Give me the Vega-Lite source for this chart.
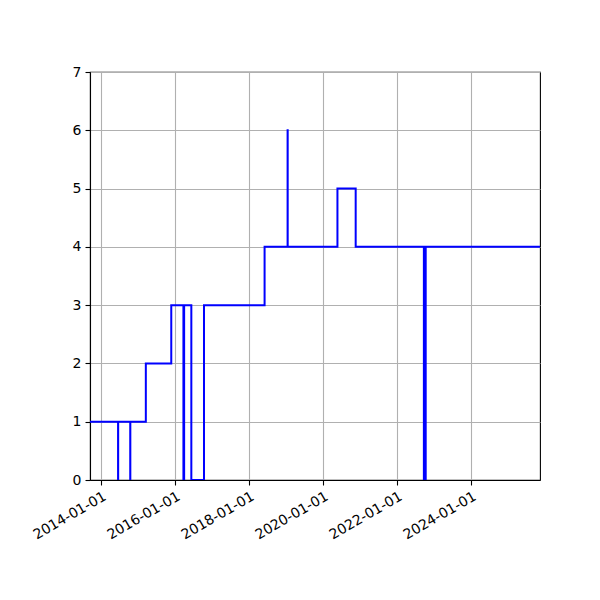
{
  "$schema": "https://vega.github.io/schema/vega-lite/v6.json",
  "width": 450,
  "height": 408,
  "autosize": "none",
  "padding": {"left": 90, "top": 72, "right": 60, "bottom": 120},
  "background": "white",
  "data": {
    "values": [
      {"date": "2013-09-13", "value": 1},
      {"date": "2014-06-17", "value": 0},
      {"date": "2014-06-18", "value": 1},
      {"date": "2014-10-15", "value": 0},
      {"date": "2014-10-16", "value": 1},
      {"date": "2015-03-18", "value": 2},
      {"date": "2015-11-24", "value": 3},
      {"date": "2016-03-23", "value": 0},
      {"date": "2016-03-30", "value": 3},
      {"date": "2016-06-09", "value": 0},
      {"date": "2016-10-12", "value": 3},
      {"date": "2018-06-02", "value": 4},
      {"date": "2019-01-15", "value": 6},
      {"date": "2019-01-16", "value": 4},
      {"date": "2020-05-21", "value": 5},
      {"date": "2020-11-17", "value": 4},
      {"date": "2022-09-21", "value": 0},
      {"date": "2022-10-09", "value": 4},
      {"date": "2025-11-10", "value": 4}
    ]
  },
  "mark": {"type": "line", "interpolate": "step-after", "color": "#0000ff", "strokeWidth": 2, "clip": true},
  "encoding": {
    "x": {
      "field": "date",
      "type": "temporal",
      "title": null,
      "scale": {
        "type": "utc",
        "domain": [
          {"year": 2013, "month": 9, "date": 13, "utc": true},
          {"year": 2025, "month": 11, "date": 10, "utc": true}
        ],
        "nice": false
      },
      "axis": {
        "values": [
          {"year": 2014, "month": 1, "date": 1, "utc": true},
          {"year": 2016, "month": 1, "date": 1, "utc": true},
          {"year": 2018, "month": 1, "date": 1, "utc": true},
          {"year": 2020, "month": 1, "date": 1, "utc": true},
          {"year": 2022, "month": 1, "date": 1, "utc": true},
          {"year": 2024, "month": 1, "date": 1, "utc": true}
        ],
        "format": "%Y-%m-%d",
        "labelAngle": -30,
        "labelAlign": "right",
        "labelBaseline": "top",
        "labelPadding": 4
      }
    },
    "y": {
      "field": "value",
      "type": "quantitative",
      "title": null,
      "scale": {"domain": [0, 7], "nice": false},
      "axis": {"values": [0, 1, 2, 3, 4, 5, 6, 7], "labelPadding": 4}
    }
  },
  "config": {
    "view": {"stroke": "black", "strokeWidth": 1.1},
    "axis": {
      "domainColor": "black",
      "domainWidth": 1.1,
      "tickColor": "black",
      "tickSize": 5,
      "tickWidth": 1.1,
      "gridColor": "#b0b0b0",
      "gridWidth": 1.1,
      "gridOpacity": 1,
      "labelFont": "DejaVu Sans",
      "labelFontSize": 14,
      "labelColor": "black",
      "labelOverlap": false,
      "labelFlush": false
    }
  }
}
